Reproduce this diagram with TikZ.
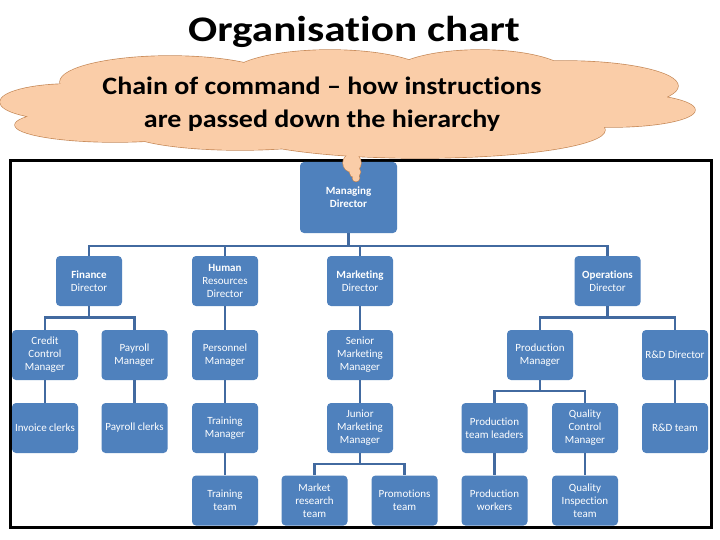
\documentclass[tikz,border=0pt]{standalone}
\usepackage{fontspec}
\setmainfont{Carlito}[Ligatures=NoCommon]
\usepackage{graphicx}
\definecolor{boxblue}{RGB}{79,129,189}
\definecolor{connblue}{RGB}{66,106,160}
\definecolor{cloudfill}{RGB}{250,205,168}
\definecolor{cloudline}{RGB}{196,135,85}
\tikzset{
  orgbox/.style={rounded corners=4pt, fill=boxblue, minimum width=66pt, minimum height=50pt,
    text=white, align=center, inner sep=1pt, font=\fontsize{11}{13}\selectfont},
  conn/.style={draw=connblue, line width=2.4pt},
  puff/.style={draw=cloudline, line width=1.3pt},
  pufffill/.style={fill=cloudfill},
}
\begin{document}
\begin{tikzpicture}[x=1pt,y=-1pt]
\useasboundingbox (0,0) rectangle (720,540);
\fill[white] (0,0) rectangle (720,540);

% title
\node[font=\fontsize{36}{40}\selectfont\bfseries] (title) at (354,32) {\scalebox{1.2}[1]{Organisation chart}};

% frame
\draw[line width=3pt] (10,161) rectangle (711,527);

% boxes
\node[orgbox, minimum width=97pt, minimum height=71pt] (md) at (348.5,197.5) {\textbf{Managing}\\\textbf{Director}};
\node[orgbox] (fd) at (89,281) {\textbf{Finance}\\Director};
\node[orgbox] (hrd) at (225,281) {\textbf{Human}\\Resources\\Director};
\node[orgbox] (mkd) at (360,281) {\textbf{Marketing}\\Director};
\node[orgbox] (opd) at (607.5,281) {\textbf{Operations}\\Director};

\node[orgbox] (ccm) at (45,355) {Credit\\Control\\Manager};
\node[orgbox] (pm) at (134.5,355) {Payroll\\Manager};
\node[orgbox] (perm) at (225,355) {Personnel\\Manager};
\node[orgbox] (smm) at (360,355) {Senior\\Marketing\\Manager};
\node[orgbox] (prodm) at (540,355) {Production\\Manager};
\node[orgbox] (rdd) at (675,355) {R\&D Director};

\node[orgbox] (ic) at (45,428) {Invoice clerks};
\node[orgbox] (pc) at (134.5,428) {Payroll clerks};
\node[orgbox] (tm) at (225,428) {Training\\Manager};
\node[orgbox] (jmm) at (360,428) {Junior\\Marketing\\Manager};
\node[orgbox] (ptl) at (494.5,428) {Production\\team leaders};
\node[orgbox] (qcm) at (585,428) {Quality\\Control\\Manager};
\node[orgbox] (rdt) at (675,428) {R\&D team};

\node[orgbox] (tt) at (225,500.5) {Training\\team};
\node[orgbox] (mrt) at (314.5,500.5) {Market\\research\\team};
\node[orgbox] (pt) at (404.5,500.5) {Promotions\\team};
\node[orgbox] (pw) at (494.5,500.5) {Production\\workers};
\node[orgbox] (qit) at (585,500.5) {Quality\\Inspection\\team};

% bus coordinates
\coordinate (b1) at (348.5,246);
\coordinate (b2) at (89,317.5);
\coordinate (b3) at (360,464);
\coordinate (b4) at (607.5,317.5);
\coordinate (b5) at (540,391);

% connectors
\draw[conn] (md.south) -- (b1);
\draw[conn] (fd.north) |- (b1) -| (opd.north);
\draw[conn] (hrd.north) -- (hrd.north |- b1);
\draw[conn] (mkd.north) -- (mkd.north |- b1);

\draw[conn] (fd.south) -- (b2);
\draw[conn] (ccm.north) |- (b2) -| (pm.north);
\draw[conn] (ccm) -- (ic);
\draw[conn] (pm) -- (pc);

\draw[conn] (hrd) -- (perm);
\draw[conn] (perm) -- (tm);
\draw[conn] (tm) -- (tt);

\draw[conn] (mkd) -- (smm);
\draw[conn] (smm) -- (jmm);
\draw[conn] (jmm.south) -- (b3);
\draw[conn] (mrt.north) |- (b3) -| (pt.north);

\draw[conn] (opd.south) -- (b4);
\draw[conn] (prodm.north) |- (b4) -| (rdd.north);
\draw[conn] (rdd) -- (rdt);
\draw[conn] (prodm.south) -- (b5);
\draw[conn] (ptl.north) |- (b5) -| (qcm.north);
\draw[conn] (ptl) -- (pw);
\draw[conn] (qcm) -- (qit);

% cloud callout (union of puffs)
\def\puffs{
  (70,102) ellipse (70 and 18)
  (115,125) ellipse (100 and 17)
  (170,82) ellipse (110 and 26)
  (330,76) ellipse (100 and 26)
  (480,76) ellipse (90 and 26)
  (565,86) ellipse (113 and 25)
  (612,110) ellipse (83 and 17)
  (420,130) ellipse (185 and 28)
  (240,130) ellipse (115 and 20)
  (352,163) circle (9)
  (355,172) circle (5.5)
  (356,178) circle (3.5)
}
\path[puff] \puffs;
\path[pufffill] \puffs;
\fill[cloudfill] (350,102) ellipse (300 and 38);

\node[font=\fontsize{25}{33}\selectfont\bfseries, align=center] (cloudtext) at (322,104)
  {\scalebox{1.12}[1]{Chain of command -- how instructions}\\\scalebox{1.12}[1]{are passed down the hierarchy}};
\end{tikzpicture}
\end{document}
